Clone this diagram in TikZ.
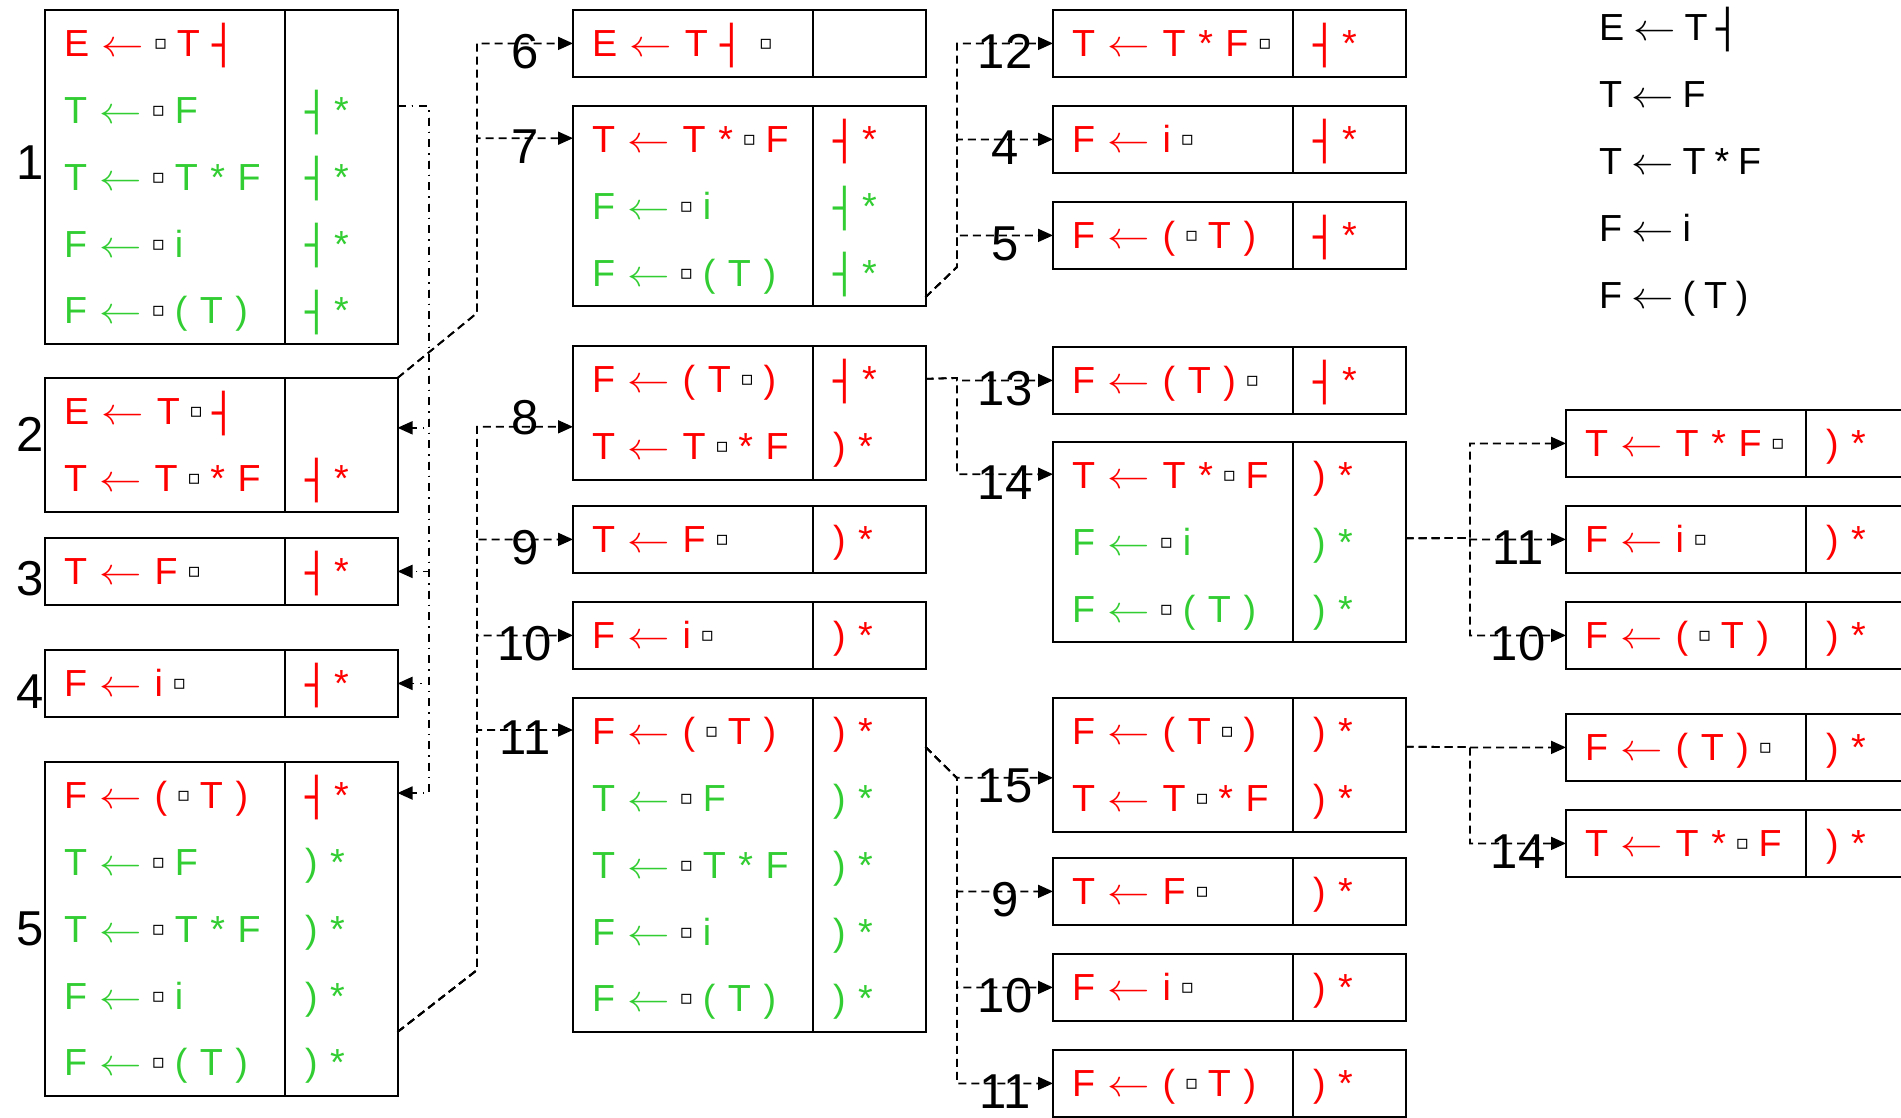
\documentclass[tikz,border=0pt]{standalone}
\usepackage{fontspec}
\setmainfont{Liberation Sans}[WordSpace=0.85]
\newfontfamily\dvsfont{DejaVu Sans}
\usepackage{graphicx}
\usepackage{xcolor}
\usetikzlibrary{arrows.meta, positioning}
\definecolor{kernred}{RGB}{255, 0, 0}
\definecolor{closegreen}{RGB}{50, 205, 50}
\newcommand{\boxfont}{\fontsize{37.7}{66.8}\selectfont}
\newcommand{\numfont}{\fontsize{49}{55}\selectfont}
\newcommand{\la}{\scalebox{2.05}[1.82]{\fontsize{20.74}{24}\selectfont$\leftarrow$}}
\newcommand{\mk}{{\color{black}\hspace{-3pt}\raisebox{7pt}{\dvsfont\fontsize{20}{20}\selectfont ▫}\hspace{-3pt}}}
\newcommand{\eot}{\raisebox{-0.04em}{\dvsfont ┤}\kern-0.16em}
\newcommand{\rd}[1]{\strut\textcolor{kernred}{#1}}
\newcommand{\gr}[1]{\strut\textcolor{closegreen}{#1}}

\begin{document}
\begin{tikzpicture}[x=1pt, y=-1pt,
    items/.style={draw, line width=2pt, outer sep=0pt, anchor=north west, text width=202pt, inner xsep=19pt, inner ysep=0pt, align=left, font=\boxfont},
    look/.style={draw, line width=2pt, outer sep=0pt, text width=72.5pt, inner xsep=20pt, inner ysep=0pt, align=left, font=\boxfont},
    num/.style={font=\numfont, inner sep=0pt},
    tag/.style={num, yshift=-8pt},
    arrow/.style={-{Triangle[length=15pt, width=13pt]}, line width=1.8pt, dash pattern=on 8pt off 5pt},
    fan/.style={arrow, dash pattern=on 8pt off 6pt on 1.5pt off 6pt}
  ]
  \useasboundingbox (0,0) rectangle (1901,1117);
  \clip (0,0) rectangle (1901,1117);

  % Grammar
  \node[anchor=north west, align=left, inner sep=0pt, font=\boxfont] (gram) at (1599,-6)
    {\strut E \la\ T \eot\\ \strut T \la\ F\\ \strut T \la\ T * F\\ \strut F \la\ i\\ \strut F \la\ ( T )};

  % Column 1
  \node[items] (s1) at (45,10) {\rd{E \la\ \mk\ T \eot}\\ \gr{T \la\ \mk\ F}\\ \gr{T \la\ \mk\ T * F}\\ \gr{F \la\ \mk\ i}\\ \gr{F \la\ \mk\ ( T )}};
  \node[look, right=0pt of s1] (s1l) {\strut\\ \gr{\eot\ *}\\ \gr{\eot\ *}\\ \gr{\eot\ *}\\ \gr{\eot\ *}};

  \node[items] (s2) at (45,378) {\rd{E \la\ T \mk\ \eot}\\ \rd{T \la\ T \mk\ * F}};
  \node[look, right=0pt of s2] (s2l) {\strut\\ \rd{\eot\ *}};

  \node[items] (s3) at (45,538) {\rd{T \la\ F \mk}};
  \node[look, right=0pt of s3] (s3l) {\rd{\eot\ *}};

  \node[items] (s4) at (45,650) {\rd{F \la\ i \mk}};
  \node[look, right=0pt of s4] (s4l) {\rd{\eot\ *}};

  \node[items] (s5) at (45,762) {\rd{F \la\ ( \mk\ T )}\\ \gr{T \la\ \mk\ F}\\ \gr{T \la\ \mk\ T * F}\\ \gr{F \la\ \mk\ i}\\ \gr{F \la\ \mk\ ( T )}};
  \node[look, right=0pt of s5] (s5l) {\rd{\eot\ *}\\ \gr{) *}\\ \gr{) *}\\ \gr{) *}\\ \gr{) *}};

  \node[num, left=1pt of s1.west, yshift=14pt] (n1) {1};
  \node[num, left=1pt of s2.west, yshift=10pt] (n2) {2};
  \node[num, left=1pt of s3.west, yshift=-7pt] (n3) {3};
  \node[num, left=1pt of s4.west, yshift=-8pt] (n4) {4};
  \node[num, left=1pt of s5.west] (n5) {5};

  % Column 2
  \node[items] (s6) at (573,10) {\rd{E \la\ T \eot\ \ \mk}};
  \node[look, right=0pt of s6] (s6l) {\strut};

  \node[items] (s7) at (573,106) {\rd{T \la\ T * \mk\ F}\\ \gr{F \la\ \mk\ i}\\ \gr{F \la\ \mk\ ( T )}};
  \node[look, right=0pt of s7] (s7l) {\rd{\eot\ *}\\ \gr{\eot\ *}\\ \gr{\eot\ *}};

  \node[items] (s8) at (573,346) {\rd{F \la\ ( T \mk\ )}\\ \rd{T \la\ T \mk\ * F}};
  \node[look, right=0pt of s8] (s8l) {\rd{\eot\ *}\\ \rd{) *}};

  \node[items] (s9) at (573,506) {\rd{T \la\ F \mk}};
  \node[look, right=0pt of s9] (s9l) {\rd{) *}};

  \node[items] (s10) at (573,602) {\rd{F \la\ i \mk}};
  \node[look, right=0pt of s10] (s10l) {\rd{) *}};

  \node[items] (s11) at (573,698) {\rd{F \la\ ( \mk\ T )}\\ \gr{T \la\ \mk\ F}\\ \gr{T \la\ \mk\ T * F}\\ \gr{F \la\ \mk\ i}\\ \gr{F \la\ \mk\ ( T )}};
  \node[look, right=0pt of s11] (s11l) {\rd{) *}\\ \gr{) *}\\ \gr{) *}\\ \gr{) *}\\ \gr{) *}};

  % Column 3
  \node[items] (s12) at (1053,10) {\rd{T \la\ T * F \mk}};
  \node[look, right=0pt of s12] (s12l) {\rd{\eot\ *}};

  \node[items] (s4b) at (1053,106) {\rd{F \la\ i \mk}};
  \node[look, right=0pt of s4b] (s4bl) {\rd{\eot\ *}};

  \node[items] (s5b) at (1053,202) {\rd{F \la\ ( \mk\ T )}};
  \node[look, right=0pt of s5b] (s5bl) {\rd{\eot\ *}};

  \node[items] (s13) at (1053,347) {\rd{F \la\ ( T ) \mk}};
  \node[look, right=0pt of s13] (s13l) {\rd{\eot\ *}};

  \node[items] (s14) at (1053,442) {\rd{T \la\ T * \mk\ F}\\ \gr{F \la\ \mk\ i}\\ \gr{F \la\ \mk\ ( T )}};
  \node[look, right=0pt of s14] (s14l) {\rd{) *}\\ \gr{) *}\\ \gr{) *}};

  \node[items] (s15) at (1053,698) {\rd{F \la\ ( T \mk\ )}\\ \rd{T \la\ T \mk\ * F}};
  \node[look, right=0pt of s15] (s15l) {\rd{) *}\\ \rd{) *}};

  \node[items] (s9b) at (1053,858) {\rd{T \la\ F \mk}};
  \node[look, right=0pt of s9b] (s9bl) {\rd{) *}};

  \node[items] (s10b) at (1053,954) {\rd{F \la\ i \mk}};
  \node[look, right=0pt of s10b] (s10bl) {\rd{) *}};

  \node[items] (s11b) at (1053,1050) {\rd{F \la\ ( \mk\ T )}};
  \node[look, right=0pt of s11b] (s11bl) {\rd{) *}};

  % Column 4
  \node[items] (s16) at (1566,410) {\rd{T \la\ T * F \mk}};
  \node[look, right=0pt of s16] (s16l) {\rd{) *}};

  \node[items] (s10c) at (1566,506) {\rd{F \la\ i \mk}};
  \node[look, right=0pt of s10c] (s10cl) {\rd{) *}};

  \node[items] (s11c) at (1566,602) {\rd{F \la\ ( \mk\ T )}};
  \node[look, right=0pt of s11c] (s11cl) {\rd{) *}};

  \node[items] (s17) at (1566,714) {\rd{F \la\ ( T ) \mk}};
  \node[look, right=0pt of s17] (s17l) {\rd{) *}};

  \node[items] (s14b) at (1566,810) {\rd{T \la\ T * \mk\ F}};
  \node[look, right=0pt of s14b] (s14bl) {\rd{) *}};

  % Junctions
  \coordinate (j1) at (429,106);
  \coordinate (j2) at (477,313);
  \coordinate (j3) at (477,970);
  \coordinate (j4) at (957,267);
  \coordinate (j5) at (957,378);
  \coordinate (j6) at (957,778);
  \coordinate (j7) at (1470,538);
  \coordinate (j8) at (1470,747);

  % Arrows
  \draw[fan] ([yshift=71pt]s1l.east) -- (j1) |- ([yshift=17pt]s2l.east);
  \draw[fan] ([yshift=71pt]s1l.east) -- (j1) |- (s3l.east);
  \draw[fan] ([yshift=71pt]s1l.east) -- (j1) |- (s4l.east);
  \draw[fan] ([yshift=71pt]s1l.east) -- (j1) |- ([yshift=136pt]s5l.east);

  \draw[arrow] (s2l.north east) -- (j2) |- node[tag, pos=.75] (t6) {6} (s6.west);
  \draw[arrow] (s2l.north east) -- (j2) |- node[tag, pos=.75] (t7) {7} ([yshift=68pt]s7.west);

  \draw[arrow] ([yshift=-103pt]s5l.east) -- (j3) |- node[num, pos=.75, yshift=9pt] (t8) {8} ([yshift=-14pt]s8.west);
  \draw[arrow] ([yshift=-103pt]s5l.east) -- (j3) |- node[tag, pos=.75] (t9) {9} (s9.west);
  \draw[arrow] ([yshift=-103pt]s5l.east) -- (j3) |- node[tag, pos=.75] (t10) {10} (s10.west);
  \draw[arrow] ([yshift=-103pt]s5l.east) -- (j3) |- node[tag, pos=.75] (t11) {11} ([yshift=135pt]s11.west);

  \draw[arrow] ([yshift=-91pt]s7l.east) -- (j4) |- node[tag, pos=.75] (t12) {12} (s12.west);
  \draw[arrow] ([yshift=-91pt]s7l.east) -- (j4) |- node[tag, pos=.75] (t4) {4} (s4b.west);
  \draw[arrow] ([yshift=-91pt]s7l.east) -- (j4) |- node[tag, pos=.75] (t5) {5} (s5b.west);

  \draw[arrow] ([yshift=34pt]s8l.east) -- (j5) |- node[tag, pos=.75] (t13) {13} (s13.west);
  \draw[arrow] ([yshift=34pt]s8l.east) -- (j5) |- node[tag, pos=.75] (t14) {14} ([yshift=68pt]s14.west);

  \draw[arrow] ([yshift=118pt]s11l.east) -- (j6) |- node[tag, pos=.75] (t15) {15} ([yshift=-13pt]s15.west);
  \draw[arrow] ([yshift=118pt]s11l.east) -- (j6) |- node[tag, pos=.75] (t9b) {9} (s9b.west);
  \draw[arrow] ([yshift=118pt]s11l.east) -- (j6) |- node[tag, pos=.75] (t10b) {10} (s10b.west);
  \draw[arrow] ([yshift=118pt]s11l.east) -- (j6) |- node[tag, pos=.75] (t11b) {11} (s11b.west);

  \draw[arrow] ([yshift=4pt]s14l.east) -- (j7) |- (s16.west);
  \draw[arrow] ([yshift=4pt]s14l.east) -- (j7) |- node[tag, pos=.75] (t11c) {11} (s10c.west);
  \draw[arrow] ([yshift=4pt]s14l.east) -- (j7) |- node[tag, pos=.75] (t10c) {10} (s11c.west);

  \draw[arrow] ([yshift=18pt]s15l.east) -- (j8) |- (s17.west);
  \draw[arrow] ([yshift=18pt]s15l.east) -- (j8) |- node[tag, pos=.75] (t14b) {14} (s14b.west);
\end{tikzpicture}
\end{document}
